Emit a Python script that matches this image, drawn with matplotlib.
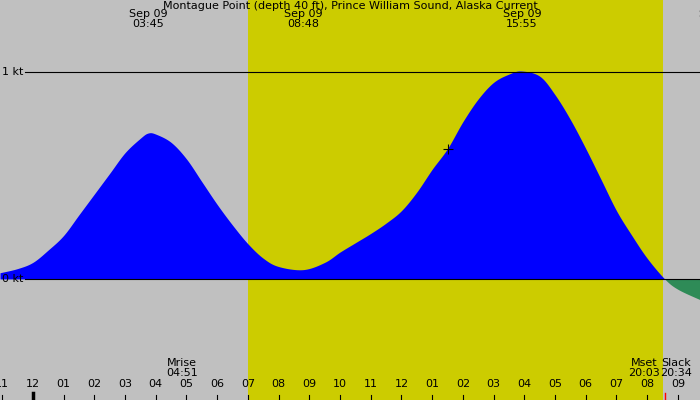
import matplotlib.pyplot as plt
import numpy as np

# hours since midnight Sep 09, current in knots
hours = [-1.07, -0.5, 0, 0.5, 1, 1.5, 2, 2.5, 3, 3.5, 3.75, 4, 4.5, 5, 5.5, 6, 6.5, 7, 7.5, 8,
         8.8, 9.5, 10, 10.5, 11, 11.5, 12, 12.5, 13, 13.5, 14, 14.5, 15, 15.5, 15.9, 16.5,
         17, 17.5, 18, 18.5, 19, 19.5, 20, 20.57, 21, 21.72]
knots = [0.03, 0.05, 0.08, 0.14, 0.21, 0.31, 0.41, 0.51, 0.61, 0.68, 0.705, 0.70, 0.66, 0.58,
         0.47, 0.36, 0.26, 0.17, 0.10, 0.06, 0.045, 0.08, 0.13, 0.175, 0.22, 0.27, 0.33, 0.42,
         0.53, 0.63, 0.76, 0.87, 0.95, 0.99, 1.005, 0.98, 0.89, 0.77, 0.63, 0.48, 0.33, 0.21,
         0.10, 0.0, -0.05, -0.10]

events = [(3.75, "Sep 09\n03:45"), (8.8, "Sep 09\n08:48"), (15.92, "Sep 09\n15:55"), (22.3, "Sep 09\n22:10")]
tick_hours = list(range(-1, 22))
tick_labels = ["%02d" % ((h - 1) % 12 + 1) for h in tick_hours]
sunrise, sunset = 7.0, 20.53


def smooth(xs, ys, n=12):
    # Catmull-Rom rendering through the read points
    xs, ys = np.asarray(xs), np.asarray(ys)
    px = np.concatenate([[xs[0]], xs, [xs[-1]]])
    py = np.concatenate([[ys[0]], ys, [ys[-1]]])
    ox, oy = [], []
    t = np.linspace(0, 1, n, endpoint=False)
    for i in range(1, len(px) - 2):
        for p, o in ((px, ox), (py, oy)):
            p0, p1, p2, p3 = p[i - 1], p[i], p[i + 1], p[i + 2]
            o.extend(0.5 * (2 * p1 + (-p0 + p2) * t + (2 * p0 - 5 * p1 + 4 * p2 - p3) * t ** 2
                            + (-p0 + 3 * p1 - 3 * p2 + p3) * t ** 3))
    ox.append(xs[-1]); oy.append(ys[-1])
    return np.array(ox), np.array(oy)


fig = plt.figure(figsize=(7, 4), dpi=100)
fig.patch.set_facecolor("#c0c0c0")
ax = fig.add_axes([0, 0, 1, 1])
ax.axvspan(sunrise, sunset, color="#cccc00", lw=0)
x, y = smooth(hours, knots)
ax.fill_between(x, 0, y, where=y >= 0, color="#0000ff", interpolate=True, lw=0)
ax.fill_between(x, 0, y, where=y <= 0, color="#2e8b57", interpolate=True, lw=0)
ax.set_xlim(-1.07, 21.72)
ax.set_ylim(-0.585, 1.348)
ax.axis("off")

x0 = -1.07 + 25 / 30.7
for lvl, lab in [(1, "1 kt"), (0, "0 kt")]:
    ax.plot([x0, 21.72], [lvl, lvl], color="black", lw=0.8, zorder=5)
    ax.text(-1.0, lvl, lab, fontsize=8, va="center", ha="left", zorder=6)

ax.text(10.33, 1.345, "Montague Point (depth 40 ft), Prince William Sound, Alaska Current",
        fontsize=8, ha="center", va="top")
for h, lab in events:
    ax.text(h, 1.305, lab, fontsize=8, ha="center", va="top", linespacing=1.0)

for h, lab in zip(tick_hours, tick_labels):
    ax.text(h, -0.51, lab, fontsize=8, ha="center", va="center")
    ax.plot([h, h], [-0.585, -0.56], color="black", lw=0.8)
ax.plot([0, 0], [-0.585, -0.55], color="black", lw=2.5)

ax.text(4.85, -0.43, "Mrise\n04:51", fontsize=8, ha="center", va="center", linespacing=1.0)
ax.text(19.9, -0.43, "Mset\n20:03", fontsize=8, ha="center", va="center", linespacing=1.0)
ax.text(20.95, -0.43, "Slack\n20:34", fontsize=8, ha="center", va="center", linespacing=1.0)
ax.plot([20.57, 20.57], [-0.585, -0.55], color="red", lw=1)
ax.plot([13.5], [0.63], marker="+", color="black", ms=7, mew=0.8, zorder=6)

fig.savefig("out.png", facecolor=fig.get_facecolor())
